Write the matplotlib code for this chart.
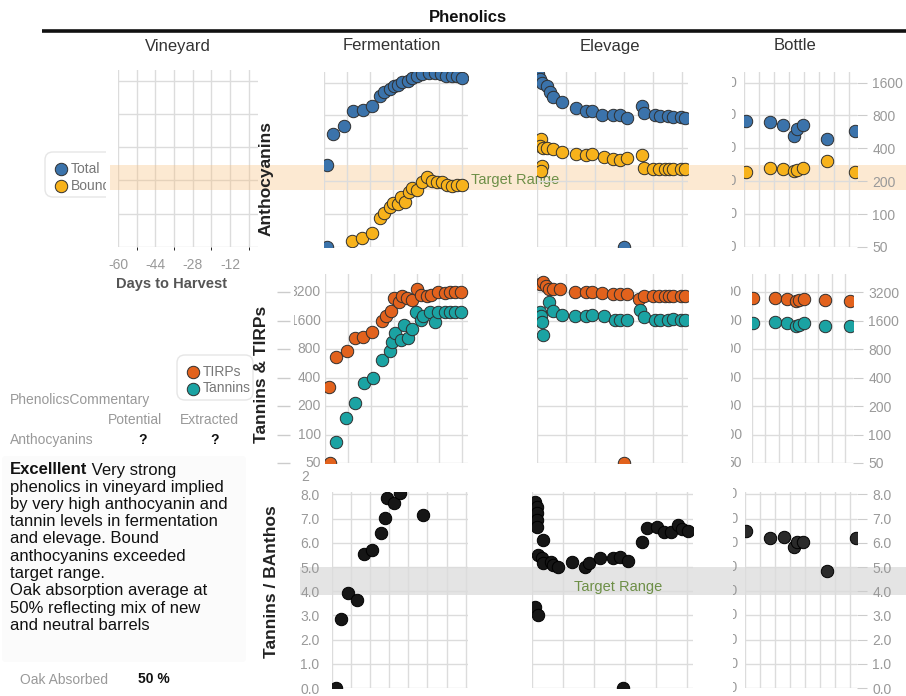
import matplotlib
matplotlib.use("Agg")
import matplotlib.pyplot as plt
from matplotlib.patches import FancyBboxPatch
from matplotlib.ticker import NullLocator
from matplotlib.transforms import Bbox, TransformedBbox, blended_transform_factory
import numpy as np

plt.rcParams['font.family'] = ['Liberation Sans', 'DejaVu Sans']

# ---- data ---------------------------------------------------------------
stages = ['Vineyard', 'Fermentation', 'Elevage', 'Bottle']
row_titles = ['Anthocyanins', 'Tannins & TIRPs', 'Tannins / BAnthos']

harvest_ticks = [-60, -44, -28, -12]
anth_ticks = [50, 100, 200, 400, 800, 1600]
tann_ticks = [50, 100, 200, 400, 800, 1600, 3200]
ratio_ticks = [0, 1, 2, 3, 4, 5, 6, 7, 8]

anth_target = (165, 280)
ratio_target = (3.85, 5.0)

# fermentation - anthocyanins (days of ferment)
ferm_total_day = [0.5, 0.5, 1.6, 3.4, 5.0, 6.7, 8.3, 9.8, 10.5, 11.4, 12.2, 12.8, 13.6,
                  14.5, 15.3, 16.2, 17.1, 18.3, 19.3, 20.3, 21.2, 22.2, 23.1, 24.0]
ferm_total = [279, 50, 543, 641, 882, 900, 980, 1213, 1320, 1410, 1500, 1530, 1630,
              1670, 1780, 1830, 1900, 1950, 1950, 1900, 1850, 1850, 1830, 1780]
ferm_bound_day = [4.8, 6.6, 8.3, 9.7, 10.5, 11.4, 11.9, 12.8, 13.4, 14.0, 14.7, 15.3,
                  16.2, 17.1, 17.9, 18.8, 19.7, 20.5, 21.4, 22.2, 23.1, 24.0]
ferm_bound = [57, 61, 67, 93, 103, 117, 127, 125, 144, 130, 158, 175,
              165, 195, 217, 203, 195, 195, 183, 179, 186, 183]

# elevage - anthocyanins (months in barrel)
elev_total_month = [0.07, 0.2, 0.35, 0.7, 0.9, 1.1, 1.7, 2.7, 3.4, 3.8, 4.5, 5.2, 5.7, 6.2,
                    6.0, 7.2, 7.4, 8.1, 8.5, 9.0, 9.4, 9.9, 10.2]
elev_total = [1900, 1740, 1600, 1500, 1320, 1190, 1070, 940, 882, 870, 810, 800, 800, 760,
              50, 980, 845, 800, 790, 790, 780, 770, 760]
elev_bound_month = [0.3, 0.2, 0.4, 0.7, 1.1, 1.7, 0.35, 0.3, 2.7, 3.4, 3.8, 4.6, 5.2, 5.7,
                    6.2, 7.2, 7.4, 8.0, 8.4, 8.8, 9.1, 9.4, 9.9, 10.2]
elev_bound = [486, 420, 400, 400, 395, 368, 274, 250, 353, 345, 353, 332, 320, 315,
              325, 346, 262, 257, 257, 257, 257, 257, 257, 257]

# bottle (months in bottle)
bottle_month = [0.1, 1.7, 2.6, 3.3, 3.5, 3.9, 5.5, 7.4]
bottle_total = [711, 697, 654, 517, 602, 654, 486, 577]
bottle_bound = [241, 267, 257, 250, 253, 262, 305, 241]

# fermentation - tannins & TIRPs
ferm_tirp_day = [0.7, 0.9, 1.9, 3.8, 5.2, 6.6, 8.3, 10.0, 10.7, 11.6, 12.1, 12.9, 13.4,
                 14.3, 15.2, 16.0, 16.7, 17.8, 18.6, 19.8, 21.0, 21.9, 22.8, 23.8]
ferm_tirp = [320, 50, 668, 775, 1040, 1090, 1230, 1610, 1780, 2010, 2770, 2510, 2900,
             2770, 2640, 3440, 3000, 2900, 3000, 3200, 3150, 3200, 3200, 3200]
ferm_tann_day = [1.9, 3.6, 5.3, 6.9, 8.4, 10.0, 11.4, 11.7, 12.2, 13.3, 13.8, 14.5,
                 15.2, 15.9, 16.7, 17.2, 18.4, 19.3, 19.8, 21.0, 21.9, 22.8, 23.8]
ferm_tann = [84, 150, 217, 353, 400, 622, 775, 944, 1200, 1010, 1460, 1060,
             1300, 1960, 1650, 1780, 1960, 1540, 1960, 1960, 1960, 1960, 1960]

# elevage - tannins & TIRPs
elev_tirp_month = [0.2, 0.4, 0.6, 0.8, 1.1, 1.6, 2.6, 3.4, 3.8, 4.5, 5.2, 5.7, 6.2,
                   6.0, 7.0, 7.4, 8.0, 8.4, 8.8, 9.1, 9.4, 9.9, 10.2]
elev_tirp = [3890, 4100, 3700, 3500, 3440, 3480, 3200, 3200, 3200, 3150, 3050, 3050, 3050,
             50, 2700, 2900, 2960, 2960, 2960, 2960, 2960, 2960, 2900]
elev_tann_month = [0.2, 0.3, 0.35, 0.4, 0.8, 1.1, 1.7, 2.6, 3.4, 3.8, 4.6, 5.4, 5.7, 6.2,
                   7.1, 7.4, 8.1, 8.5, 9.0, 9.4, 9.9, 10.2]
elev_tann = [1960, 1780, 1540, 1120, 2500, 2010, 1830, 1790, 1790, 1830, 1790, 1650, 1650, 1650,
             2060, 1750, 1650, 1650, 1650, 1680, 1650, 1650]

bottle_tirp = [2760, 2760, 2700, 2610, 2650, 2700, 2650, 2610]
bottle_tann = [1525, 1565, 1505, 1410, 1450, 1525, 1410, 1410]

# tannins / bound anthocyanins
ratio_ferm_day = [0.8, 1.9, 3.3, 5.2, 6.7, 8.4, 10.3, 11.1, 11.5, 13.0, 14.2, 19.0]
ratio_ferm = [0.0, 2.85, 3.93, 3.64, 5.54, 5.7, 6.4, 7.02, 7.85, 7.64, 8.05, 7.15]
ratio_elev_month = [0.2, 0.3, 0.3, 0.3, 0.35, 0.7, 0.4, 0.65, 0.7, 1.2, 1.35, 1.7, 2.6, 3.4,
                    3.7, 4.4, 5.2, 5.7, 6.2, 0.2, 0.4, 5.9, 7.1, 7.4, 8.1, 8.5, 9.0, 9.4,
                    9.7, 10.1]
ratio_elev = [7.69, 7.48, 7.23, 6.94, 6.65, 6.12, 5.5, 5.37, 5.17, 5.2, 5.08, 5.0, 5.2, 5.0,
              5.17, 5.37, 5.37, 5.41, 5.25, 3.35, 3.02, 0.0, 6.03, 6.6, 6.65, 6.45, 6.45, 6.74,
              6.57, 6.49]
ratio_bottle = [6.49, 6.2, 6.24, 5.83, 6.03, 6.03, 4.83, 6.2]

commentary_lead = 'Excelllent'
commentary = [' Very strong', 'phenolics in vineyard implied', 'by very high anthocyanin and',
              'tannin levels in fermentation', 'and elevage. Bound', 'anthocyanins exceeded',
              'target range.', 'Oak absorption average at', '50% reflecting mix of new',
              'and neutral barrels']
oak_absorbed = 50

# ---- styling ------------------------------------------------------------
BLUE = '#3b73ab'
GOLD = '#f7b21b'
ORANGE = '#e2621d'
TEAL = '#1ba3a3'
DARK = '#161616'
GRID = '#dcdcdc'
TICK = '#999999'
TARGET = '#6d8f47'

W, H = 906, 696
fig = plt.figure(figsize=(W / 100, H / 100), dpi=100)


def rect(l, t, r, b):
    return [l / W, 1 - b / H, (r - l) / W, (b - t) / H]


page = fig.add_axes([0, 0, 1, 1])
page.set_xlim(0, W)
page.set_ylim(H, 0)
page.axis('off')


def panel(box, xlim, xgrid, yscale, ylim, ygrid):
    ax = fig.add_axes(rect(*box))
    ax.set_facecolor('none')
    for s in ax.spines.values():
        s.set_visible(False)
    ax.set_yscale(yscale)
    ax.set_xlim(xlim)
    ax.set_ylim(ylim)
    ax.set_xticks(xgrid)
    ax.set_yticks(ygrid)
    ax.xaxis.set_minor_locator(NullLocator())
    ax.yaxis.set_minor_locator(NullLocator())
    ax.tick_params(length=0, labelbottom=False, labelleft=False)
    ax.grid(True, color=GRID, lw=1)
    ax.set_axisbelow(True)
    return ax


def dots(ax, x, y, color, edge='#2f2f2f'):
    ax.scatter(x, y, s=80, c=color, edgecolors=edge, linewidths=0.7, zorder=3)


def right_labels(ax, ticks, fmt):
    ax.yaxis.tick_right()
    ax.set_yticks(ticks)
    ax.set_yticklabels([fmt(v) for v in ticks])
    ax.tick_params(axis='y', length=7, color='#cccccc', labelright=True,
                   labelsize=10, labelcolor=TICK, pad=4)


def clipped_labels(ax, ticks, fmt, x_right, clip_l, clip_r):
    clip = TransformedBbox(Bbox.from_extents(clip_l / W, 0, clip_r / W, 1), fig.transFigure)
    trans = blended_transform_factory(fig.transFigure, ax.transData)
    for v in ticks:
        t = ax.text(x_right / W, v, fmt(v), transform=trans, ha='right', va='center',
                    fontsize=10, color=TICK)
        t.set_clip_path(None)
        t.set_clip_on(True)
        t.set_clip_box(clip)


ferm_grid = np.arange(0, 25, 4)
elev_grid = np.arange(0, 11, 2)
bott_grid = np.arange(0, 8, 1)
fmt_int = lambda v: f'{v:d}'
fmt_dec = lambda v: f'{v:.1f}'

# ---- row 1: anthocyanins -------------------------------------------------
vine = panel((118, 70, 258, 247), (-60, 0), harvest_ticks, 'log', (50, 2000), anth_ticks)
vine.set_xticks(np.arange(-52, 0, 16), minor=True)
vine.grid(True, which='minor', axis='x', color=GRID, lw=1)
vine.set_xticklabels([str(v) for v in harvest_ticks])
vine.tick_params(axis='x', labelbottom=True, labelsize=10, labelcolor=TICK, pad=8)

f1 = panel((324, 72, 468, 247), (0, 25), ferm_grid, 'log', (50, 2000), anth_ticks)
f1.axhspan(*anth_target, xmin=-1.486, xmax=4.04, color='#f8be78', alpha=0.33,
           lw=0, clip_on=False, zorder=0)
f1.text(1.33, 205, 'Target Range', transform=f1.get_yaxis_transform(), ha='center',
        va='center', fontsize=10.5, color=TARGET, clip_on=False)
dots(f1, ferm_total_day, ferm_total, BLUE)
dots(f1, ferm_bound_day, ferm_bound, GOLD)

e1 = panel((537, 72, 688, 247), (0, 10.4), elev_grid, 'log', (50, 2000), anth_ticks)
dots(e1, elev_total_month, elev_total, BLUE)
dots(e1, elev_bound_month, elev_bound, GOLD)

b1 = panel((744, 72, 857, 247), (0, 7.5), bott_grid, 'log', (50, 2000), anth_ticks)
right_labels(b1, anth_ticks, fmt_int)
clipped_labels(b1, anth_ticks, fmt_int, 737, 732, 745)
dots(b1, bottle_month, bottle_total, BLUE)
dots(b1, bottle_month, bottle_bound, GOLD)

# ---- row 2: tannins & TIRPs ---------------------------------------------
f2 = panel((325, 274, 468, 463), (0, 25), ferm_grid, 'log', (50, 5000), tann_ticks)
clipped_labels(f2, tann_ticks, fmt_int, 321, 294, 326)
f2.hlines(tann_ticks, 277 / W, 290 / W, colors='#cccccc', lw=1, clip_on=False,
          transform=blended_transform_factory(fig.transFigure, f2.transData))
dots(f2, ferm_tirp_day, ferm_tirp, ORANGE)
dots(f2, ferm_tann_day, ferm_tann, TEAL)

e2 = panel((537, 274, 688, 463), (0, 10.4), elev_grid, 'log', (50, 5000), tann_ticks)
dots(e2, elev_tirp_month, elev_tirp, ORANGE)
dots(e2, elev_tann_month, elev_tann, TEAL)

b2 = panel((752, 274, 853, 463), (0, 7.6), bott_grid, 'log', (50, 5000), tann_ticks)
right_labels(b2, tann_ticks, fmt_int)
clipped_labels(b2, tann_ticks, fmt_int, 742, 731, 752)
dots(b2, bottle_month, bottle_tirp, ORANGE)
dots(b2, bottle_month, bottle_tann, TEAL)

# ---- row 3: tannins / bound anthocyanins --------------------------------
f3 = panel((332, 492, 468, 688), (0, 28.5), np.arange(0, 29, 4), 'linear', (0, 8.1),
           ratio_ticks)
f3.set_yticklabels([fmt_dec(v) for v in ratio_ticks])
f3.tick_params(axis='y', labelleft=True, labelsize=10, labelcolor=TICK, pad=9)
f3.axhspan(*ratio_target, xmin=-0.235, xmax=4.22, color='#bdbdbd', alpha=0.4,
           lw=0, clip_on=False, zorder=0)
dots(f3, ratio_ferm_day, ratio_ferm, DARK, '#000000')

e3 = panel((532, 492, 693, 688), (0, 10.4), elev_grid, 'linear', (0, 8.1), ratio_ticks)
e3.text(5.55, 4.17, 'Target Range', ha='center', va='center', fontsize=10.5,
        color=TARGET)
dots(e3, ratio_elev_month, ratio_elev, DARK, '#000000')

b3 = panel((745, 492, 857, 688), (0, 7.5), bott_grid, 'linear', (0, 8.1), ratio_ticks)
right_labels(b3, ratio_ticks, fmt_dec)
clipped_labels(b3, ratio_ticks, fmt_dec, 738, 733, 745)
dots(b3, bottle_month, ratio_bottle, '#2a2a2a', '#000000')

# ---- legends ----------------------------------------------------------------
def legend_box(box, labels, colors, top, width):
    l, t, r, b = box
    lg = fig.add_axes(rect(*box))
    lg.set_xlim(l, r)
    lg.set_ylim(b, t)
    lg.axis('off')
    lg.add_patch(FancyBboxPatch((l + 3, top), width, 45, boxstyle='round,pad=0,rounding_size=8',
                                fc='white', ec='#e6e6e6', lw=1))
    for i, (lab, col) in enumerate(zip(labels, colors)):
        y = top + 17 + i * 16.5
        lg.scatter([l + 19], [y], s=80, c=col, edgecolors='#2f2f2f', linewidths=0.7)
        lg.text(l + 29, y, lab, ha='left', va='center', fontsize=10, color='#777777',
                clip_on=True)


legend_box((42, 148, 106, 208), ['Total', 'Bound'], [BLUE, GOLD], 152, 80)
legend_box((174, 352, 256, 404), ['TIRPs', 'Tannins'], [ORANGE, TEAL], 355, 76)

# ---- headings -------------------------------------------------------------
page.text(468, 17, 'Phenolics', ha='center', va='center', fontsize=12, fontweight='bold',
          color='#111111')
page.plot([42, W], [31, 31], color='#111111', lw=2.6, solid_capstyle='butt')
for name, cx in zip(stages, [178, 392, 610, 795]):
    page.text(cx, 46, name, ha='center', va='center', fontsize=12, color='#333333')

for title, (cx, cy) in zip(row_titles, [(266, 178), (262, 374), (272, 582)]):
    fig.text(cx / W, 1 - cy / H, title, rotation=90, ha='center', va='center', fontsize=12.5,
             fontweight='bold', color='#222222', zorder=10)

page.text(172, 284, 'Days to Harvest', ha='center', va='center', fontsize=10.5,
          fontweight='bold', color='#555555')
page.text(305, 477, '2', ha='center', va='center', fontsize=10, color=TICK)

# ---- commentary -----------------------------------------------------------
page.add_patch(FancyBboxPatch((2, 456), 244, 206, boxstyle='round,pad=0,rounding_size=4',
                              fc='#fbfbfb', ec='none'))
page.text(10, 400, 'PhenolicsCommentary', ha='left', va='center', fontsize=10, color=TICK)
page.text(108, 420, 'Potential', ha='left', va='center', fontsize=10, color=TICK)
page.text(180, 420, 'Extracted', ha='left', va='center', fontsize=10, color=TICK)
page.text(10, 440, 'Anthocyanins', ha='left', va='center', fontsize=10, color=TICK)
page.text(143, 440, '?', ha='center', va='center', fontsize=10, fontweight='bold',
          color='#111111')
page.text(215, 440, '?', ha='center', va='center', fontsize=10, fontweight='bold',
          color='#111111')

lead = page.text(10, 470, commentary_lead, ha='left', va='center', fontsize=12,
                 fontweight='bold', color='#111111')
page.annotate(commentary[0], xy=(1, 0.5), xycoords=lead, ha='left', va='center',
              fontsize=12, color='#111111')
for i, line in enumerate(commentary[1:], start=1):
    page.text(10, 470 + i * 17.25, line, ha='left', va='center', fontsize=12,
              color='#111111')

page.text(20, 680, 'Oak Absorbed', ha='left', va='center', fontsize=10, color=TICK)
page.text(138, 679, f'{oak_absorbed} %', ha='left', va='center', fontsize=10,
          fontweight='bold', color='#111111')

fig.savefig('out.png', dpi=100)
